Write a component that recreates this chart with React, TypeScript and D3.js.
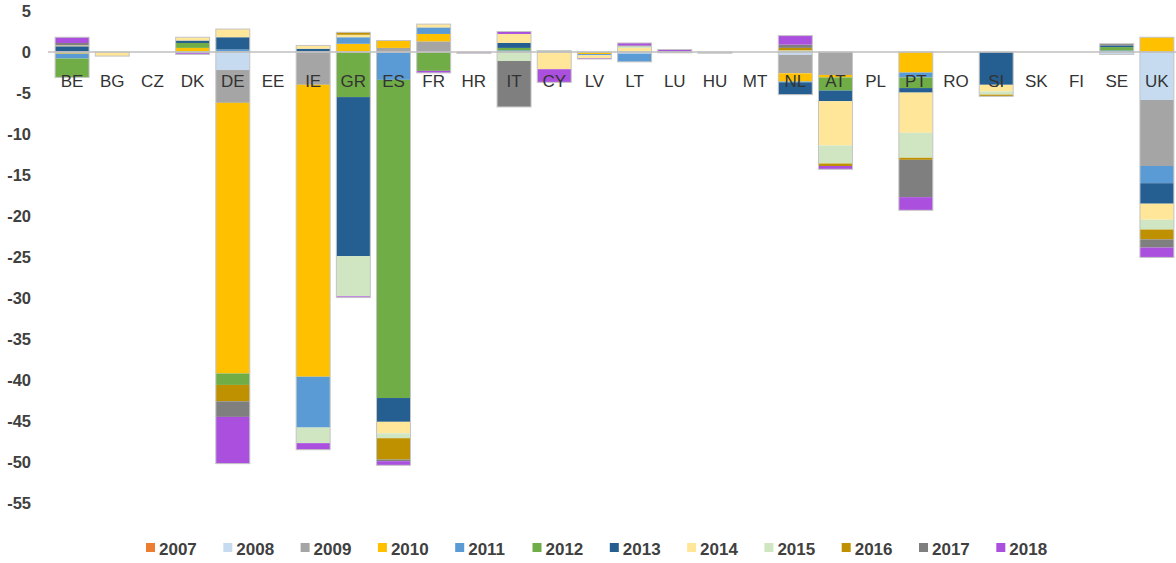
import React from "react";
import * as d3 from "d3";

const countries = ["BE","BG","CZ","DK","DE","EE","IE","GR","ES","FR","HR","IT","CY","LV","LT","LU","HU","MT","NL","AT","PL","PT","RO","SI","SK","FI","SE","UK"];
const years = ["2007","2008","2009","2010","2011","2012","2013","2014","2015","2016","2017","2018"];

//                BE    BG    CZ  DK     DE     EE  IE     GR     ES     FR     HR     IT    CY    LV     LT    LU    HU     MT  NL     AT    PL  PT     RO  SI    SK  FI  SE    UK
const v2007 = [   0,    0,    0,  0,     0,     0,  0,     0,     0,     0,     0,     0,    0,    0,     0,    0,    0,     0,  0,     0,    0,  0,     0,  0,    0,  0,  0,    0];
const v2008 = [   0,    0,    0,  0,    -2.2,   0,  0,     0,     0,     0,     0,     0,    0,    0,    -0.2,  0,    0,     0, -0.35,  0,    0,  0,     0,  0,    0,  0, -0.3, -5.85];
const v2009 = [   0,    0,    0,  0,    -4.0,   0, -4.0,   0,     0.5,   1.3,   0,     0,    0,    0,     0,    0,    0,     0, -2.25, -2.8,  0,  0,     0,  0,    0,  0,  0,   -8.05];
const v2010 = [-0.2,    0,    0,  0.5, -33.0,   0,-35.6,   1.0,   0.9,   0.9,   0,     0,    0,   -0.25,  0,    0,    0,     0, -1.0,  -0.3,  0, -2.5,   0,  0,    0,  0,  0,    1.8];
const v2011 = [-0.6,    0,    0, -0.15,  0.3,   0, -6.2,   0.8,  -3.4,   0.8,   0,     0.2,  0,   -0.15, -1.0,  0,    0,     0, -0.1,   0,    0, -0.6,   0,  0,    0,  0,  0.2, -2.1];
const v2012 = [-2.3,    0,    0,  0.6,  -1.4,   0,  0,    -5.5, -38.8,  -2.3,   0,     0.3,  0.15, 0,     0,   -0.1,  0,     0,  0,    -1.6,  0, -1.3,   0,  0,    0,  0,  0.4,  0];
const v2013 = [ 0.7,    0,    0,  0.3,   1.5,   0,  0.4, -19.4,  -2.9,   0,     0,     0.6,  0,    0,     0,    0.1,  0,     0, -1.5,  -1.3,  0, -0.55,  0, -4.0,  0,  0,  0.2, -2.5];
const v2014 = [ 0.1, -0.5,    0,  0.4,   1.0,   0,  0.4,   0.3,  -1.4,   0.4,   0,     1.1, -2.1, -0.35,  0.5,  0,    0,     0,  0,    -5.4,  0, -4.9,   0, -0.8,  0,  0,  0,   -1.95];
const v2015 = [   0,    0,    0,  0,     0,     0, -1.9,  -4.9,  -0.6,   0,     0,    -1.1,  0,    0,     0.2,  0,   -0.15,  0,  0.2,  -2.2,  0, -3.05,  0, -0.4,  0,  0,  0,   -1.2];
const v2016 = [   0,    0,    0,  0,    -2.0,   0,  0,     0.3,  -2.6,   0,     0,     0,    0,    0,     0,    0,    0,     0,  0.3,  -0.3,  0, -0.25,  0, -0.2,  0,  0,  0,   -1.2];
const v2017 = [ 0.3,    0,    0,  0,    -1.9,   0,  0,     0,    -0.2,   0,     0,    -5.6,  0,    0,     0.1,  0,    0,     0,  0.4,   0,    0, -4.55,  0,  0,    0,  0,  0.2, -1.0];
const v2018 = [ 0.7,    0,    0, -0.15, -5.7,   0, -0.8,  -0.15, -0.5,  -0.25, -0.15,  0.3, -1.6, -0.1,   0.3,  0.2,  0,     0,  1.1,  -0.4,  0, -1.6,   0,  0,    0,  0,  0,   -1.2];

const series = [v2007, v2008, v2009, v2010, v2011, v2012, v2013, v2014, v2015, v2016, v2017, v2018];
const yTicks = [5, 0, -5, -10, -15, -20, -25, -30, -35, -40, -45, -50, -55];

const colors = ["#ED7D31","#C6DBEF","#A5A5A5","#FFC000","#5B9BD5","#70AD47","#255E91","#FFE699","#D0E6C2","#BF9000","#7F7F7F","#AB4FDF"];

export default function App() {
  const W = 1176, H = 563;
  const x = d3.scaleBand<string>().domain(countries).range([52, 1177]).paddingInner(0.155).paddingOuter(0.0775);
  const y = d3.scaleLinear().domain([-55, 5]).range([503, 11]);

  const rows = countries.map((c, i) => {
    const o: any = { country: c };
    years.forEach((yr, k) => { o[yr] = series[k][i]; });
    return o;
  });
  const stacked = d3.stack<any>().keys(years).offset(d3.stackOffsetDiverging)(rows);

  const font = "'Liberation Sans', Arial, sans-serif";
  const bw = x.bandwidth();

  return (
    <svg width={W} height={H} style={{ position: "absolute", left: 0, top: 0, background: "#fff" }}>
      {yTicks.map((t) => (
        <text key={t} x={31} y={y(t)} dy="0.36em" textAnchor="end" fontFamily={font} fontSize={16.5} fontWeight="bold" fill="#404040">{t}</text>
      ))}
      {stacked.map((layer, k) => (
        <g key={years[k]} fill={colors[k]}>
          {layer.map((d, i) => {
            const h = Math.abs(y(d[0]) - y(d[1]));
            if (h < 0.01) return null;
            return <rect key={i} x={x(countries[i])} y={Math.min(y(d[0]), y(d[1]))} width={bw} height={h} />;
          })}
        </g>
      ))}
      {countries.map((c, i) => {
        const pos = d3.sum(series, (s) => Math.max(0, s[i]));
        const neg = d3.sum(series, (s) => Math.min(0, s[i]));
        return (
          <g key={c} fill="none" stroke="#c4c4c4" strokeWidth={1}>
            {pos > 0 && <rect x={x(c)} y={y(pos)} width={bw} height={y(0) - y(pos)} />}
            {neg < 0 && <rect x={x(c)} y={y(0)} width={bw} height={y(neg) - y(0)} />}
          </g>
        );
      })}
      <line x1={48} x2={1176} y1={y(0)} y2={y(0)} stroke="#bfbfbf" strokeWidth={1.5} />
      {countries.map((c) => (
        <text key={c} x={(x(c) as number) + bw / 2} y={87} textAnchor="middle" fontFamily={font} fontSize={17} fill="#333333">{c}</text>
      ))}
      {years.map((yr, k) => {
        const lx = 146 + k * 77.3;
        return (
          <g key={yr}>
            <rect x={lx} y={543} width={9} height={9} fill={colors[k]} />
            <text x={lx + 13} y={554.5} fontFamily={font} fontSize={17} fontWeight="bold" fill="#404040">{yr}</text>
          </g>
        );
      })}
    </svg>
  );
}
